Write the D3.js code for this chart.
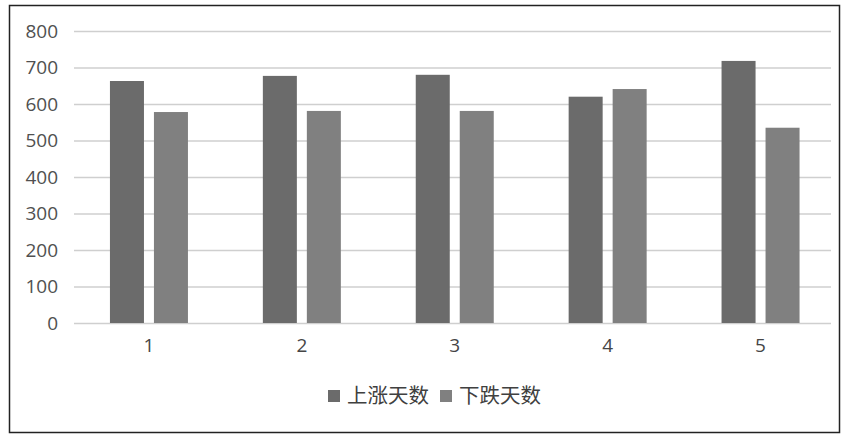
<!DOCTYPE html>
<html>
<head>
<meta charset="utf-8">
<script src="https://cdn.jsdelivr.net/npm/d3@7"></script>
<style>
  body { margin: 0; background: #fff; }
  svg { display: block; }
  text { font-family: "Open Sans", "Noto Sans CJK SC", sans-serif; }
</style>
</head>
<body>
<div id="chart"></div>
<script>
var categories = ["1", "2", "3", "4", "5"];
var seriesNames = ["上涨天数", "下跌天数"];
var upDays = [663, 677, 680, 620, 718];
var downDays = [578, 581, 581, 641, 535];
var yTicks = [0, 100, 200, 300, 400, 500, 600, 700, 800];
var colors = ["#6b6b6b", "#808080"];

var fullWidth = 852, fullHeight = 439;
var margin = {top: 31, right: 21, bottom: 116, left: 74};
var width = fullWidth - margin.left - margin.right;
var height = fullHeight - margin.top - margin.bottom;

var svg = d3.select("#chart").append("svg")
  .attr("width", fullWidth)
  .attr("height", fullHeight);

// outer frame
svg.append("rect")
  .attr("x", 9.5).attr("y", 5.5)
  .attr("width", 830).attr("height", 427)
  .attr("fill", "#fff")
  .attr("stroke", "#222")
  .attr("stroke-width", 1.5);

var g = svg.append("g")
  .attr("transform", "translate(" + margin.left + "," + margin.top + ")");

// bands run a bit wider than the gridlines (the scan is slightly stretched)
var xScale = d3.scaleBand().domain(categories).range([-1.5, width + 6]);
var yScale = d3.scaleLinear().domain([0, 800]).range([height, 0]);
var bw = xScale.bandwidth();
var xInner = d3.scaleBand().domain(seriesNames)
  .range([bw / 2 - 39, bw / 2 + 39])
  .paddingInner(0.227);

// gridlines
g.selectAll(".grid").data(yTicks).enter().append("line")
  .attr("x1", 0).attr("x2", width)
  .attr("y1", function(d) { return yScale(d) + 0.5; })
  .attr("y2", function(d) { return yScale(d) + 0.5; })
  .attr("stroke", "#cfcfcf")
  .attr("stroke-width", 1.5);

// y axis labels
var yAxis = d3.axisLeft(yScale).tickValues(yTicks).tickSize(0).tickPadding(16);
var ya = g.append("g").call(yAxis);
ya.select(".domain").remove();
ya.selectAll("text").attr("font-size", 19).attr("fill", "#505050");

// bars
var rows = categories.map(function(c, i) {
  return {cat: c, vals: [upDays[i], downDays[i]]};
});
var groups = g.selectAll(".grp").data(rows).enter().append("g")
  .attr("transform", function(d) { return "translate(" + xScale(d.cat) + ",0)"; });
groups.selectAll("rect").data(function(d) {
  return d.vals.map(function(v, j) { return {name: seriesNames[j], v: v, j: j}; });
}).enter().append("rect")
  .attr("x", function(d) { return xInner(d.name); })
  .attr("width", xInner.bandwidth())
  .attr("y", function(d) { return yScale(d.v); })
  .attr("height", function(d) { return height - yScale(d.v); })
  .attr("fill", function(d) { return colors[d.j]; });

// x axis labels
var xAxis = d3.axisBottom(xScale).tickSize(0).tickPadding(16);
var xa = g.append("g").attr("transform", "translate(0," + height + ")").call(xAxis);
xa.select(".domain").remove();
xa.selectAll("text").attr("font-size", 19).attr("fill", "#454545");

// legend
var legend = svg.append("g").attr("transform", "translate(328,396)");
var lx = [0, 112];
seriesNames.forEach(function(n, i) {
  legend.append("rect")
    .attr("x", lx[i]).attr("y", -6)
    .attr("width", 12).attr("height", 12)
    .attr("fill", colors[i]);
  legend.append("text")
    .attr("x", lx[i] + 19).attr("y", 0)
    .attr("dy", "0.36em")
    .attr("font-size", 20.5)
    .attr("fill", "#404040")
    .text(n);
});
</script>
</body>
</html>
